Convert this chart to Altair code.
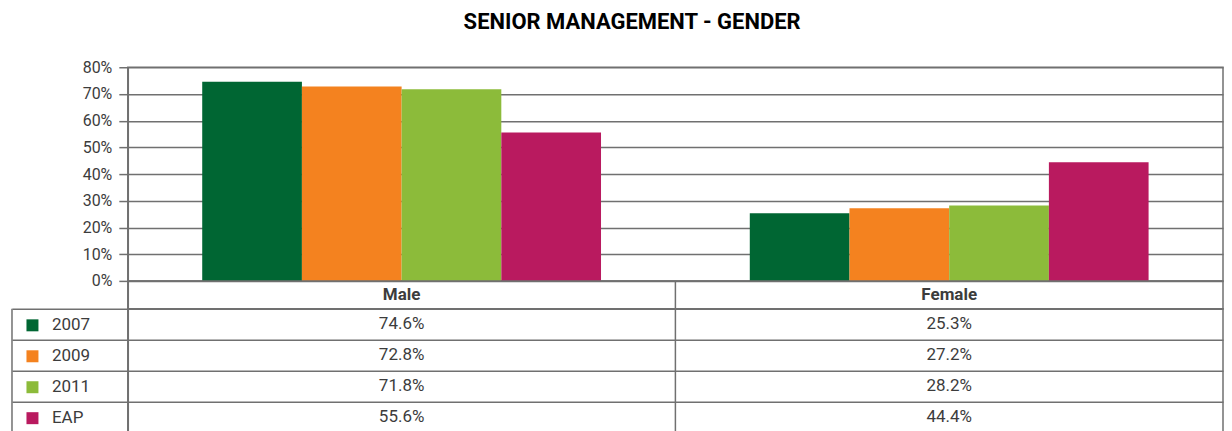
import altair as alt
import pandas as pd

# ---- data ----
genders = ["Male", "Female"]
series = ["2007", "2009", "2011", "EAP"]
male_values = [74.6, 72.8, 71.8, 55.6]
female_values = [25.3, 27.2, 28.2, 44.4]
series_colors = ["#006633", "#F4821F", "#8CBB3A", "#B91A5F"]
y_tick_values = [0, 10, 20, 30, 40, 50, 60, 70, 80]
title_text = "SENIOR MANAGEMENT - GENDER"

rows = []
for s, m, f in zip(series, male_values, female_values):
    rows.append({"series": s, "gender": "Male", "value": m})
    rows.append({"series": s, "gender": "Female", "value": f})
df = pd.DataFrame(rows)
df["label"] = df["value"].map(lambda v: f"{v:.1f}%")
hdr_df = pd.DataFrame({"gender": genders})

FONT = "Roboto"
TXT = "#3c3c3c"
GRID = "#707070"
LW = 1.5
W = 1097

color_scale = alt.Scale(domain=series, range=series_colors)

# ---- bar chart ----
bars = alt.Chart(df).mark_bar().encode(
    x=alt.X("gender:N", sort=genders,
            scale=alt.Scale(domain=genders, paddingInner=0.2717, paddingOuter=0.1359),
            axis=None),
    xOffset=alt.XOffset("series:N", sort=series,
                        scale=alt.Scale(domain=series, paddingInner=0, paddingOuter=0)),
    y=alt.Y("value:Q", scale=alt.Scale(domain=[0, 80], nice=False),
            axis=alt.Axis(values=y_tick_values, labelExpr="datum.value + '%'",
                          title=None, grid=True, gridColor=GRID, gridWidth=LW,
                          domain=True, domainColor=GRID, domainWidth=LW,
                          ticks=True, tickSize=9, tickColor=GRID, tickWidth=LW,
                          labelPadding=7, labelFont=FONT, labelFontSize=16,
                          labelColor=TXT)),
    color=alt.Color("series:N", scale=color_scale,
                    legend=alt.Legend(orient="none", legendX=-104, legendY=250,
                                      title=None, symbolType="square",
                                      symbolSize=144, symbolStrokeWidth=0,
                                      labelFont=FONT, labelFontSize=17,
                                      labelColor=TXT, labelOffset=11,
                                      rowPadding=13, padding=0)),
).properties(width=W, height=214)

# ---- table header row ----
gender_band = alt.Scale(type="band", domain=genders, paddingInner=0, paddingOuter=0)
header = alt.Chart(hdr_df).mark_text(
    font=FONT, fontSize=17, fontWeight="bold", color=TXT, baseline="middle"
).encode(
    x=alt.X("gender:N", scale=gender_band,
            axis=alt.Axis(grid=True, bandPosition=0, labels=False, ticks=False,
                          domain=False, title=None, gridColor=GRID, gridWidth=LW)),
    text="gender:N",
).properties(width=W, height=28)

# ---- table body ----
series_band = alt.Scale(type="band", domain=series, paddingInner=0, paddingOuter=0)
table_text = alt.Chart(df).mark_text(
    font=FONT, fontSize=17, color=TXT, baseline="middle"
).encode(
    x=alt.X("gender:N", scale=gender_band,
            axis=alt.Axis(grid=True, bandPosition=0, labels=False, ticks=False,
                          domain=False, title=None, gridColor=GRID, gridWidth=LW)),
    y=alt.Y("series:N", scale=series_band,
            axis=alt.Axis(grid=True, bandPosition=0, labels=False, ticks=True,
                          tickSize=116, tickColor=GRID, tickWidth=LW,
                          domain=False, title=None, gridColor=GRID, gridWidth=LW)),
    text="label:N",
)
left_border = alt.Chart(hdr_df.head(1)).mark_rule(color=GRID, strokeWidth=LW).encode(
    x=alt.value(-116), y=alt.value(0), y2=alt.value(124)
)
table = alt.layer(table_text, left_border).properties(width=W, height=124)

chart = alt.vconcat(bars, header, table, spacing=0, bounds="flush").resolve_scale(
    x="independent", y="independent", color="independent"
).properties(
    title=alt.TitleParams(title_text, font=FONT, fontSize=22, fontWeight="bold",
                          color="#000000", anchor="middle", offset=25, dx=15),
    padding={"left": 2, "top": 2, "right": 0, "bottom": 0},
).configure_view(stroke=GRID, strokeWidth=LW)

chart.save("out.html", embed_options={"renderer": "svg", "actions": False})
